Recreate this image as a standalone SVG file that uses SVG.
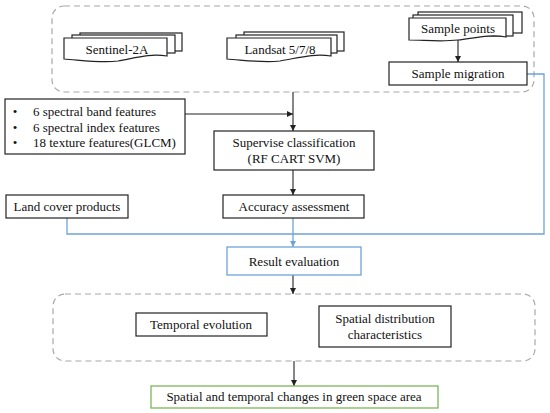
<svg xmlns="http://www.w3.org/2000/svg" width="550" height="413" viewBox="0 0 550 413">
<style>
text{font-family:"Liberation Serif","Times New Roman",serif;font-size:13px;fill:#111;text-anchor:middle}
.box{fill:#fff;stroke:#222;stroke-width:1.2}
.dash{fill:none;stroke:#a8a8a8;stroke-width:1.2;stroke-dasharray:6,4}
.blue{fill:#fff;stroke:#6fa3d6;stroke-width:1.3}
.green{fill:#fff;stroke:#7cb65a;stroke-width:1.3}
.ln{fill:none;stroke:#222;stroke-width:1.1}
.bl{fill:none;stroke:#6fa3d6;stroke-width:1.3}
</style>
<defs>
<marker id="ah" viewBox="0 0 10 10" refX="10" refY="5" markerWidth="6" markerHeight="6" orient="auto" markerUnits="userSpaceOnUse"><path d="M0,0 L10,5 L0,10 Z" fill="#222"/></marker>
<marker id="ahb" viewBox="0 0 10 10" refX="10" refY="5" markerWidth="6" markerHeight="6" orient="auto" markerUnits="userSpaceOnUse"><path d="M0,0 L10,5 L0,10 Z" fill="#6fa3d6"/></marker>
</defs>
<g id="group-input">
<rect class="dash" x="52" y="6" width="482" height="86" rx="12"/>
</g>
<g id="group-analysis">
<rect class="dash" x="53" y="294" width="482" height="67" rx="12"/>
</g>
<g id="connectors">
<path class="ln" d="M458,40 V62" marker-end="url(#ah)"/>
<path class="ln" d="M293,92 V131" marker-end="url(#ah)"/>
<path class="ln" d="M185,114 H293" marker-end="url(#ah)"/>
<path class="ln" d="M293,170 V195" marker-end="url(#ah)"/>
<path class="bl" d="M527,74 H544 V234 H67 V218"/>
<path class="bl" d="M293,218 V247" marker-end="url(#ahb)"/>
<path class="ln" d="M293,275 V294" marker-end="url(#ah)"/>
<path class="ln" d="M294,361 V386" marker-end="url(#ah)"/>
</g>
<g id="sentinel">
<rect class="box" x="80" y="33" width="102" height="18"/>
<rect class="box" x="72" y="35" width="103" height="18"/>
<path class="box" d="M64,38 H167 V56 C150,53 135,58 118,61 C100,63 80,60 64,59 Z"/>
<text x="117" y="54">Sentinel-2A</text>
</g>
<g id="landsat">
<rect class="box" x="244" y="32" width="100" height="19"/>
<rect class="box" x="236" y="35" width="101" height="18"/>
<path class="box" d="M227,38 H331 V56 C314,53 298,58 280,61 C262,63 243,60 227,59 Z"/>
<text x="280" y="54">Landsat 5/7/8</text>
</g>
<g id="sample-points">
<rect class="box" x="418" y="12" width="104" height="21"/>
<rect class="box" x="413" y="15" width="100" height="21"/>
<path class="box" d="M409,18 H506 V37 C490,34 475,38 458,40 C440,42 424,40 409,40 Z"/>
<text x="458" y="33">Sample points</text>
</g>
<g id="sample-migration">
<rect class="box" x="389" y="62" width="138" height="23"/>
<text x="458" y="78">Sample migration</text>
</g>
<g id="features">
<rect class="box" x="5" y="99" width="180" height="55"/>
<text x="15" y="116">•</text>
<text x="15" y="132">•</text>
<text x="15" y="147">•</text>
<text x="33" y="116" style="text-anchor:start">6 spectral band features</text>
<text x="33" y="132" style="text-anchor:start">6 spectral index features</text>
<text x="33" y="147" style="text-anchor:start">18 texture features(GLCM)</text>
</g>
<g id="supervise">
<rect class="box" x="214" y="131" width="160" height="39"/>
<text x="294" y="147">Supervise classification</text>
<text x="294" y="163">(RF CART SVM)</text>
</g>
<g id="land-cover">
<rect class="box" x="6" y="195" width="122" height="23"/>
<text x="67" y="211">Land cover products</text>
</g>
<g id="accuracy">
<rect class="box" x="223" y="195" width="141" height="23"/>
<text x="294" y="211">Accuracy assessment</text>
</g>
<g id="result">
<rect class="blue" x="227" y="247" width="134" height="28"/>
<text x="294" y="266">Result evaluation</text>
</g>
<g id="temporal">
<rect class="box" x="136" y="313" width="131" height="23"/>
<text x="201" y="329">Temporal evolution</text>
</g>
<g id="spatial">
<rect class="box" x="319" y="306" width="132" height="41"/>
<text x="385" y="323">Spatial distribution</text>
<text x="385" y="339">characteristics</text>
</g>
<g id="changes">
<rect class="green" x="151" y="386" width="287" height="22"/>
<text x="294" y="401">Spatial and temporal changes in green space area</text>
</g>
</svg>
